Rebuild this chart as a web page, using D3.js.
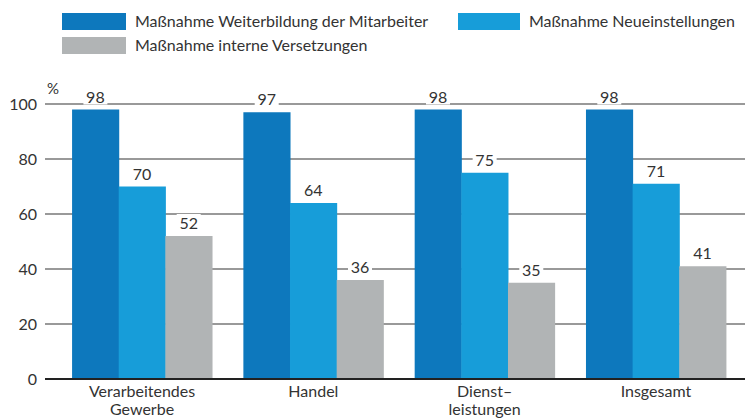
<!DOCTYPE html>
<html>
<head>
<meta charset="utf-8">
<script src="https://cdn.jsdelivr.net/npm/d3@7"></script>
<style>
  body { margin: 0; background: #fff; }
  svg text { font-family: Lato, "Open Sans", sans-serif; fill: #333; }
</style>
</head>
<body>
<svg id="chart" width="745" height="419"></svg>
<script>
const categories = [["Verarbeitendes", "Gewerbe"], ["Handel"], ["Dienst\u2013", "leistungen"], ["Insgesamt"]];
const seriesNames = ["Maßnahme Weiterbildung der Mitarbeiter", "Maßnahme Neueinstellungen", "Maßnahme interne Versetzungen"];
const weiterbildung = [98, 97, 98, 98];
const neueinstellungen = [70, 64, 75, 71];
const versetzungen = [52, 36, 35, 41];
const yTicks = [0, 20, 40, 60, 80, 100];
const colors = ["#0d78bd", "#179dd9", "#b1b4b5"];

const series = [weiterbildung, neueinstellungen, versetzungen];
const svg = d3.select("#chart");

const y = d3.scaleLinear().domain([0, 100]).range([379, 104]);
const x0 = d3.scaleBand()
    .domain(d3.range(categories.length))
    .range([56.4, 741.6])
    .paddingInner(0.183)
    .paddingOuter(0.0915);
const x1 = d3.scaleBand()
    .domain(d3.range(series.length))
    .range([0, x0.bandwidth()]);

// gridlines
svg.append("g").selectAll("line")
    .data(yTicks.filter(t => t > 0))
    .enter().append("line")
    .attr("x1", 45).attr("x2", 745)
    .attr("y1", d => y(d)).attr("y2", d => y(d))
    .attr("stroke", "#777").attr("stroke-width", 1.5);

// y tick labels
svg.append("g").selectAll("text")
    .data(yTicks)
    .enter().append("text")
    .attr("x", 37).attr("y", d => y(d))
    .attr("dy", "0.35em")
    .attr("text-anchor", "end")
    .style("font-size", "16px")
    .text(d => d);

svg.append("text")
    .attr("x", 47).attr("y", 94)
    .style("font-size", "15px")
    .text("%");

// bars
const groups = svg.append("g").selectAll("g")
    .data(categories)
    .enter().append("g")
    .attr("transform", (d, i) => `translate(${x0(i)},0)`);

groups.selectAll("rect")
    .data((d, i) => series.map((s, k) => ({ k, v: s[i] })))
    .enter().append("rect")
    .attr("x", d => x1(d.k))
    .attr("y", d => y(d.v))
    .attr("width", x1.bandwidth() + 0.5)
    .attr("height", d => y(0) - y(d.v))
    .attr("fill", d => colors[d.k]);

// value labels with white knockout
const labels = groups.selectAll("g.lbl")
    .data((d, i) => series.map((s, k) => ({ k, v: s[i] })))
    .enter().append("g")
    .attr("class", "lbl")
    .attr("transform", d => `translate(${x1(d.k) + x1.bandwidth() / 2},${y(d.v) - 7})`);

labels.append("rect")
    .attr("x", -12).attr("y", -15)
    .attr("width", 24).attr("height", 17)
    .attr("fill", "#fff");

labels.append("text")
    .attr("text-anchor", "middle")
    .style("font-size", "16px")
    .text(d => d.v);

// baseline
svg.append("line")
    .attr("x1", 45).attr("x2", 745)
    .attr("y1", y(0)).attr("y2", y(0))
    .attr("stroke", "#222").attr("stroke-width", 2);

// category labels
groups.append("text")
    .attr("x", x0.bandwidth() / 2)
    .attr("text-anchor", "middle")
    .style("font-size", "16px")
    .selectAll("tspan")
    .data(d => d)
    .enter().append("tspan")
    .attr("x", x0.bandwidth() / 2)
    .attr("y", (d, j) => 397 + j * 18)
    .text(d => d);

// legend
const legendPos = [[62, 13], [458, 13], [62, 37]];
const legend = svg.append("g").selectAll("g")
    .data(seriesNames)
    .enter().append("g")
    .attr("transform", (d, i) => `translate(${legendPos[i][0]},${legendPos[i][1]})`);

legend.append("rect")
    .attr("width", (d, i) => i === 1 ? 62 : 64)
    .attr("height", 17)
    .attr("fill", (d, i) => colors[i]);

legend.append("text")
    .attr("x", (d, i) => i === 1 ? 71 : 73)
    .attr("y", 8.5)
    .attr("dy", "0.35em")
    .style("font-size", "16px")
    .text(d => d);
</script>
</body>
</html>
